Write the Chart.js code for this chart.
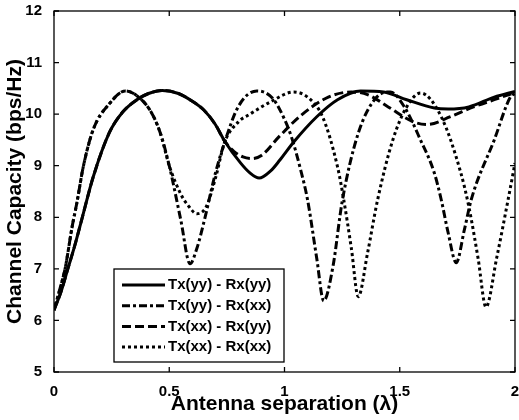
<!DOCTYPE html>
<html>
<head>
<meta charset="utf-8">
<script src="https://cdn.jsdelivr.net/npm/chart.js@4.4.0/dist/chart.umd.min.js"></script>
<style>
  html, body { margin: 0; padding: 0; background: #fff; }
  #wrap { width: 519px; height: 420px; }
</style>
</head>
<body>
<div id="wrap"><canvas id="chart" width="519" height="420"></canvas></div>
<script>
// Values (antenna separation in wavelengths, capacity in bps/Hz)
const seriesLabels = ["Tx(yy) - Rx(yy)", "Tx(yy) - Rx(xx)", "Tx(xx) - Rx(yy)", "Tx(xx) - Rx(xx)"];

const sepYyYy = [0, 0.03, 0.06, 0.09, 0.12, 0.17, 0.24, 0.3, 0.36, 0.41, 0.47, 0.54, 0.6, 0.65, 0.7, 0.74, 0.81, 0.85, 0.89, 0.94, 0.98, 1.04, 1.14, 1.23, 1.33, 1.43, 1.53, 1.65, 1.71, 1.8, 1.91, 2.0];
const capYyYy = [6.2, 6.55, 7.0, 7.45, 7.95, 8.78, 9.64, 10.05, 10.28, 10.4, 10.46, 10.4, 10.25, 10.08, 9.8, 9.48, 9.05, 8.86, 8.76, 8.9, 9.11, 9.46, 9.95, 10.28, 10.45, 10.43, 10.28, 10.12, 10.1, 10.14, 10.33, 10.44];

const sepYyXx = [0, 0.025, 0.048, 0.078, 0.1, 0.127, 0.17, 0.24, 0.31, 0.37, 0.42, 0.46, 0.5, 0.55, 0.59, 0.62, 0.65, 0.7, 0.74, 0.8, 0.88, 0.95, 1.0, 1.03, 1.07, 1.1, 1.14, 1.17, 1.21, 1.25, 1.32, 1.4, 1.46, 1.52, 1.59, 1.65, 1.68, 1.71, 1.745, 1.78, 1.81, 1.91, 1.98, 2.0];
const capYyXx = [6.2, 6.6, 7.0, 7.8, 8.3, 8.98, 9.7, 10.2, 10.45, 10.32, 10.05, 9.65, 9.0, 7.95, 7.1, 7.4, 7.9, 8.85, 9.45, 10.15, 10.45, 10.3, 9.9, 9.56, 8.92, 8.34, 7.2, 6.38, 7.04, 8.3, 9.63, 10.33, 10.43, 10.14, 9.5, 8.86, 8.34, 7.7, 7.12, 7.75, 8.34, 9.5, 10.33, 10.4];

const sepXxYy = [0, 0.03, 0.06, 0.09, 0.12, 0.17, 0.24, 0.3, 0.36, 0.41, 0.47, 0.54, 0.6, 0.65, 0.7, 0.74, 0.78, 0.82, 0.86, 0.9, 0.98, 1.07, 1.19, 1.29, 1.36, 1.45, 1.56, 1.62, 1.72, 1.82, 1.91, 2.0];
const capXxYy = [6.2, 6.55, 7.0, 7.45, 7.95, 8.78, 9.64, 10.05, 10.28, 10.4, 10.46, 10.4, 10.25, 10.08, 9.8, 9.48, 9.28, 9.17, 9.14, 9.2, 9.58, 9.97, 10.33, 10.43, 10.38, 10.14, 9.85, 9.8, 9.95, 10.14, 10.28, 10.42];

const sepXxXx = [0, 0.025, 0.048, 0.078, 0.1, 0.127, 0.17, 0.24, 0.31, 0.37, 0.42, 0.46, 0.5, 0.55, 0.58, 0.62, 0.66, 0.7, 0.74, 0.8, 0.85, 0.94, 1.04, 1.1, 1.165, 1.23, 1.257, 1.29, 1.32, 1.36, 1.404, 1.47, 1.53, 1.59, 1.68, 1.765, 1.8, 1.84, 1.874, 1.92, 1.97, 2.0];
const capXxXx = [6.2, 6.6, 7.0, 7.8, 8.3, 8.98, 9.7, 10.2, 10.45, 10.32, 10.05, 9.65, 9.0, 8.45, 8.24, 8.07, 8.2, 8.75, 9.45, 9.85, 10.0, 10.24, 10.43, 10.33, 9.95, 8.98, 8.34, 7.4, 6.46, 7.3, 8.34, 9.5, 10.14, 10.41, 9.95, 8.86, 8.2, 7.2, 6.26, 7.2, 8.34, 9.05];

const fontFamily = "'Liberation Sans', Arial, sans-serif";

const toPoints = (xs, ys) => xs.map((x, i) => ({ x: x, y: ys[i] }));

// MATLAB style box with inward ticks
const frameTicks = {
  id: "frameTicks",
  afterDatasetsDraw(chart) {
    const { ctx, chartArea: a, scales: { x, y } } = chart;
    ctx.save();
    ctx.strokeStyle = "#000";
    ctx.lineWidth = 1.3;
    ctx.strokeRect(a.left, a.top, a.right - a.left, a.bottom - a.top);
    ctx.beginPath();
    x.ticks.forEach((t) => {
      const px = x.getPixelForValue(t.value);
      ctx.moveTo(px, a.bottom); ctx.lineTo(px, a.bottom - 5);
      ctx.moveTo(px, a.top); ctx.lineTo(px, a.top + 5);
    });
    y.ticks.forEach((t) => {
      const py = y.getPixelForValue(t.value);
      ctx.moveTo(a.left, py); ctx.lineTo(a.left + 5, py);
      ctx.moveTo(a.right, py); ctx.lineTo(a.right - 5, py);
    });
    ctx.stroke();
    ctx.restore();
  }
};

// legend box inside the plot, lower left
const boxLegend = {
  id: "boxLegend",
  afterDraw(chart) {
    const { ctx, chartArea: a } = chart;
    const left = a.left + 60, top = a.bottom - 103, w = 170, h = 93;
    ctx.save();
    ctx.fillStyle = "#fff";
    ctx.fillRect(left, top, w, h);
    ctx.strokeStyle = "#000";
    ctx.lineWidth = 1.3;
    ctx.strokeRect(left, top, w, h);
    ctx.font = "bold 15px " + fontFamily;
    ctx.textBaseline = "middle";
    ctx.fillStyle = "#000";
    chart.data.datasets.forEach((ds, i) => {
      const cy = top + 16 + i * 20.7;
      ctx.beginPath();
      ctx.setLineDash(ds.borderDash || []);
      ctx.lineWidth = 3;
      ctx.moveTo(left + 8, cy);
      ctx.lineTo(left + 51, cy);
      ctx.stroke();
      ctx.setLineDash([]);
      ctx.fillText(ds.label, left + 54, cy);
    });
    ctx.restore();
  }
};

const styles = [[], [8, 3, 3, 3], [9, 4], [3, 3]];
const seriesData = [
  toPoints(sepYyYy, capYyYy),
  toPoints(sepYyXx, capYyXx),
  toPoints(sepXxYy, capXxYy),
  toPoints(sepXxXx, capXxXx)
];

const tickFont = { family: fontFamily, size: 15, weight: "bold" };
const titleFont = { family: fontFamily, size: 21, weight: "bold" };

const capacityChart = new Chart(document.getElementById("chart"), {
  type: "line",
  data: {
    datasets: seriesData.map((pts, i) => ({
      label: seriesLabels[i],
      data: pts,
      borderColor: "#000",
      borderDash: styles[i],
      borderWidth: 3,
      pointRadius: 0,
      fill: false,
      cubicInterpolationMode: "monotone"
    }))
  },
  options: {
    responsive: false,
    animation: false,
    layout: { padding: { top: 11, right: 4, left: 0, bottom: 0 } },
    plugins: { legend: { display: false }, tooltip: { enabled: false } },
    scales: {
      x: {
        type: "linear",
        min: 0,
        max: 2,
        ticks: { stepSize: 0.5, padding: 3, color: "#000", maxRotation: 0, font: tickFont, callback: (v) => String(v) },
        grid: { display: false },
        border: { display: false },
        title: { display: true, text: "Antenna separation (λ)", color: "#000", padding: { top: 0, bottom: 3 }, font: titleFont },
        afterFit: (s) => { s.height = 48; s.paddingLeft = 0; s.paddingRight = 0; }
      },
      y: {
        min: 5,
        max: 12,
        ticks: { stepSize: 1, padding: 4, color: "#000", font: tickFont, callback: (v) => String(v) },
        grid: { display: false },
        border: { display: false },
        title: { display: true, text: "Channel Capacity (bps/Hz)", color: "#000", padding: { top: 3, bottom: 0 }, font: titleFont },
        afterFit: (s) => { s.width = 54; s.paddingTop = 0; s.paddingBottom = 0; }
      }
    }
  },
  plugins: [frameTicks, boxLegend]
});
</script>
</body>
</html>
